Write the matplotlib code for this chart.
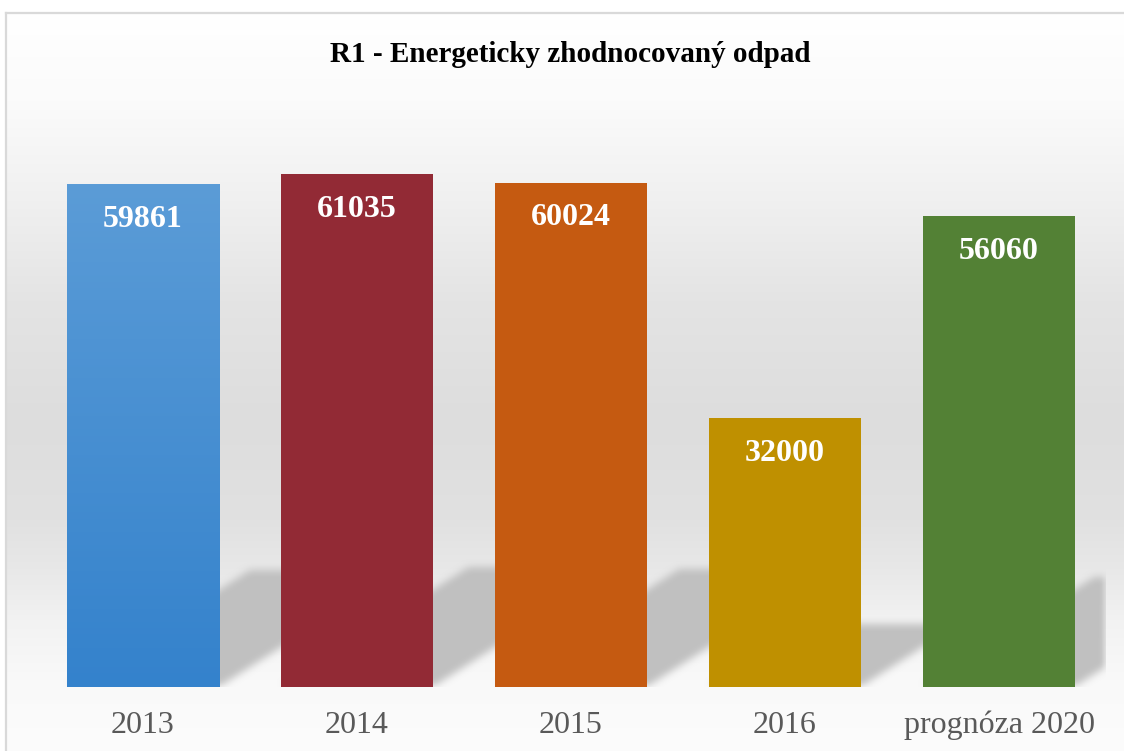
import numpy as np
import matplotlib
matplotlib.use('Agg')
import matplotlib.pyplot as plt
from matplotlib.path import Path
from matplotlib.colors import LinearSegmentedColormap

categories = ['2013', '2014', '2015', '2016', 'prognóza 2020']
values = [59861, 61035, 60024, 32000, 56060]
colors = ['#3a85cd', '#922a35', '#c55a11', '#bf9000', '#538135']
title = 'R1 - Energeticky zhodnocovaný odpad'

W, H = 1124, 751
fig = plt.figure(figsize=(W / 100, H / 100), dpi=100)

# background gradient + border
bg = fig.add_axes([0, 0, 1, 1], zorder=-10)
bg.set_axis_off()
stops_y = [13, 100, 200, 300, 420, 520, 575, 620, 680, 751]
stops_v = [255, 251, 240, 228, 221, 225, 233, 242, 249, 252]
yy = np.arange(H)
vals = np.interp(yy, stops_y, stops_v) / 255
vals[yy < 13] = 1
img = np.repeat(vals[:, None], W, axis=1)
img[:, :6] = 1
bg.imshow(np.dstack([img] * 3), extent=(0, W, H, 0), aspect='auto')
bg.set_xlim(0, W)
bg.set_ylim(H, 0)
bg.plot([6, W], [13, 13], color='#d9d9d9', lw=1.6)
bg.plot([6, 6], [13, H], color='#d9d9d9', lw=1.6)

# main axes
ax_left, ax_right = 36, 1106
ax_bottom_px, ax_top_px = 687, 99
ax = fig.add_axes([ax_left / W, (H - ax_bottom_px) / H,
                   (ax_right - ax_left) / W, (ax_bottom_px - ax_top_px) / H])
ax.set_facecolor('none')
ymax = 70000
n = len(values)
bw = 0.712
x = np.arange(n)

ppx_x = (ax_right - ax_left) / n
ppx_y = (ax_bottom_px - ax_top_px) / ymax

# shadows
gh, gw = ax_bottom_px - ax_top_px, ax_right - ax_left
xs = np.linspace(-0.5, n - 0.5, gw)
ys = np.linspace(0, ymax, gh)
X, Y = np.meshgrid(xs, ys)
pts = np.column_stack([X.ravel(), Y.ravel()])
mask = np.zeros(X.shape)
for i, v in enumerate(values):
    x0, x1 = i - bw / 2, i + bw / 2
    dy = 0.233 * v
    dx = 0.365 * v * ppx_y / ppx_x
    poly = Path([(x0, 0), (x1, 0), (x1 + dx, dy), (x0 + dx, dy), (x0, 0)])
    mask = np.maximum(mask, poly.contains_points(pts).reshape(X.shape).astype(float))


def box(a, r, axis):
    k = np.ones(2 * r + 1) / (2 * r + 1)
    return np.apply_along_axis(lambda m: np.convolve(m, k, mode='same'), axis, a)


for _ in range(2):
    mask = box(mask, 4, 0)
    mask = box(mask, 4, 1)
shadow = np.zeros(mask.shape + (4,))
shadow[..., :3] = 0.755
shadow[..., 3] = np.clip(mask, 0, 1)
ax.imshow(shadow, extent=(-0.5, n - 0.5, 0, ymax), origin='lower',
          aspect='auto', zorder=1, interpolation='bilinear')

bars = ax.bar(x, values, width=bw, color=colors, zorder=3)
grad = np.linspace(0, 1, 256)[:, None]
cmap = LinearSegmentedColormap.from_list('b', ['#3482cc', '#5b9cd7'])
im = ax.imshow(grad, extent=(-bw / 2, bw / 2, 0, values[0]), origin='lower',
               cmap=cmap, aspect='auto', zorder=3.5)
im.set_clip_path(bars[0])

for i, v in enumerate(values):
    ax.text(i, v - 35 / ppx_y, f'{v}', ha='center', va='center', color='white',
            fontsize=23, fontweight='bold', family='Liberation Serif', zorder=5)

ax.set_xlim(-0.5, n - 0.5)
ax.set_ylim(0, ymax)
ax.set_xticks(x, categories, fontsize=23, color='#595959', family='Liberation Serif')
ax.tick_params(axis='x', length=0, pad=17)
ax.set_yticks([])
for s in ax.spines.values():
    s.set_visible(False)

fig.text(570 / W, 1 - 54 / H, title, ha='center', va='center', fontsize=21,
         fontweight='bold', family='Liberation Serif')

fig.savefig('out.png', dpi=100)
